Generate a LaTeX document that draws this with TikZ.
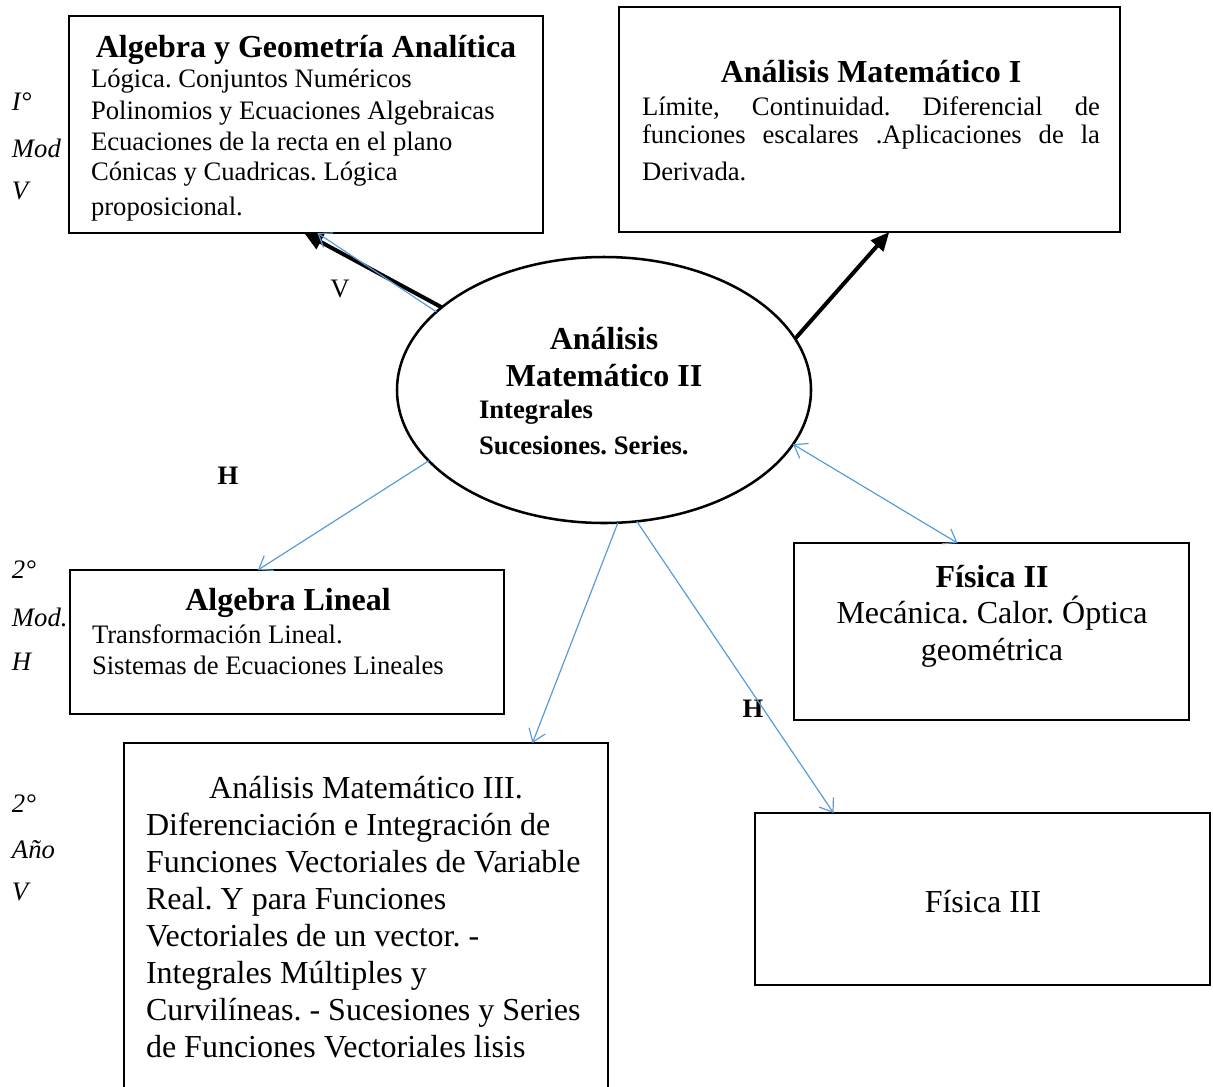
\documentclass[tikz,border=0pt]{standalone}
\usepackage{fontspec}
\setmainfont{Liberation Serif}
\frenchspacing
\usetikzlibrary{shapes.geometric,arrows.meta}
\definecolor{linkblue}{RGB}{91,155,213}
\tikzset{
  box/.style={draw, line width=1.9pt, inner sep=0pt, outer sep=0pt},
  oval/.style={draw, ellipse, line width=1.9pt, inner sep=0pt, outer sep=0pt, minimum width=310.5pt, minimum height=199.5pt},
  txt/.style={inner sep=0pt, outer sep=0pt, font=\fontsize{20}{24}\selectfont},
  bigtxt/.style={inner sep=0pt, outer sep=0pt, font=\fontsize{24}{28}\selectfont},
  ttl/.style={inner sep=0pt, outer sep=0pt, font=\fontsize{24}{28}\selectfont\bfseries},
  side/.style={inner sep=0pt, outer sep=0pt, anchor=base west, font=\fontsize{20}{24}\selectfont\itshape},
  heavyarrow/.style={line width=3pt, -{Triangle[length=14pt,width=12pt]}},
  link/.style={draw=linkblue, line width=0.9pt, -{Straight Barb[length=9pt,width=13pt]}},
  dlink/.style={draw=linkblue, line width=0.9pt, {Straight Barb[length=9pt,width=13pt]}-{Straight Barb[length=9pt,width=13pt]}}
}
\begin{document}
\begin{tikzpicture}[x=0.75pt,y=-0.75pt]
\useasboundingbox (0,0) rectangle (1213,1086);

% boxes
\node[box, anchor=north west, minimum width=355.5pt, minimum height=162.75pt] (b1) at (69,16) {};
\node[box, anchor=north west, minimum width=375.75pt, minimum height=168.75pt] (b2) at (619,7) {};
\node[oval] (ell) at (604,390) {};
\node[box, anchor=north west, minimum width=296.25pt, minimum height=132.75pt] (b3) at (794,543) {};
\node[box, anchor=north west, minimum width=325.5pt, minimum height=108pt] (b4) at (70,570) {};
\node[box, anchor=north west, minimum width=363pt, minimum height=267.75pt] (b5) at (124,743) {};
\node[box, anchor=north west, minimum width=341.25pt, minimum height=129pt] (b6) at (755,813) {};

% box 1 text
\node[ttl, anchor=base] (t1t) at (306,57) {Algebra y Geometría Analítica};
\node[txt, anchor=base west] (t1a) at (91,87) {Lógica. Conjuntos Numéricos};
\node[txt, anchor=base west] (t1b) at (91,119) {Polinomios y Ecuaciones Algebraicas};
\node[txt, anchor=base west] (t1c) at (91,150) {Ecuaciones de la recta en el plano};
\node[txt, anchor=base west] (t1d) at (91,180) {Cónicas y Cuadricas. Lógica};
\node[txt, anchor=base west] (t1e) at (91,215) {proposicional.};

% box 2 text
\node[ttl, anchor=base] (t2t) at (871,82) {Análisis Matemático I};
\node[txt, anchor=base west] (t2a) at (642,115) {\makebox[343.5pt][s]{Límite, Continuidad. Diferencial de}};
\node[txt, anchor=base west] (t2b) at (642,143) {\makebox[343.5pt][s]{funciones escalares .Aplicaciones de la}};
\node[txt, anchor=base west] (t2c) at (642,180) {Derivada.};

% ellipse text
\node[ttl, anchor=base] (tea) at (604,349) {Análisis};
\node[ttl, anchor=base] (teb) at (604,386) {Matemático II};
\node[txt, font=\fontsize{20}{24}\selectfont\bfseries, anchor=base west] (tec) at (479,418) {Integrales};
\node[txt, font=\fontsize{20}{24}\selectfont\bfseries, anchor=base west] (ted) at (479,454) {Sucesiones. Series.};

% Fisica II
\node[ttl, anchor=base] (t3t) at (992,587) {Física II};
\node[bigtxt, anchor=base] (t3a) at (992,623) {Mecánica. Calor. Óptica};
\node[bigtxt, anchor=base] (t3b) at (992,660) {geométrica};

% Algebra Lineal
\node[ttl, anchor=base] (t4t) at (288,610) {Algebra Lineal};
\node[txt, anchor=base west] (t4a) at (92,643) {Transformación Lineal.};
\node[txt, anchor=base west] (t4b) at (92,674) {Sistemas de Ecuaciones Lineales};

% AM III
\node[bigtxt, anchor=base] (t5t) at (366,798) {Análisis Matemático III.};
\node[bigtxt, anchor=base west] (t5a) at (146,835) {Diferenciación e Integración de};
\node[bigtxt, anchor=base west] (t5b) at (146,872) {Funciones Vectoriales de Variable};
\node[bigtxt, anchor=base west] (t5c) at (146,909) {Real. Y para Funciones};
\node[bigtxt, anchor=base west] (t5d) at (146,946) {Vectoriales de un vector. -};
\node[bigtxt, anchor=base west] (t5e) at (146,983) {Integrales Múltiples y};
\node[bigtxt, anchor=base west] (t5f) at (146,1020) {Curvilíneas. - Sucesiones y Series};
\node[bigtxt, anchor=base west] (t5g) at (146,1057) {de Funciones Vectoriales lisis};

% Fisica III
\node[bigtxt, anchor=base] (t6) at (983,912) {Física III};

% side labels
\node[side] (s1a) at (12,110) {I°};
\node[side] (s1b) at (12,157) {Mod};
\node[side] (s1c) at (12,199) {V};
\node[side] (s2a) at (12,578) {2°};
\node[side] (s2b) at (12,626) {Mod.};
\node[side] (s2c) at (12,670) {H};
\node[side] (s3a) at (12,812) {2°};
\node[side] (s3b) at (12,858) {Año};
\node[side] (s3c) at (12,900) {V};

% connector labels
\node[txt, anchor=base] (lv) at (340,297) {V};
\node[txt, font=\fontsize{20}{24}\selectfont\bfseries, anchor=base] (lh1) at (228,484) {H};
\node[txt, font=\fontsize{20}{24}\selectfont\bfseries, anchor=base] (lh2) at (753,717) {H};

% connectors
\draw[heavyarrow] (ell.153.7) -- (b1.269.5);
\draw[link] (ell.155) -- (b1.276.3);
\draw[heavyarrow] (ell.15) -- (b2.280.8);
\draw[dlink] (ell.344) -- (b3.111.1);
\draw[link] (ell.202.7) -- (b4.112.1);
\draw[link] (ell.276.9) -- (b5.47.6);
\draw[link] (ell.284.3) -- (b6.150.1);
\end{tikzpicture}
\end{document}
